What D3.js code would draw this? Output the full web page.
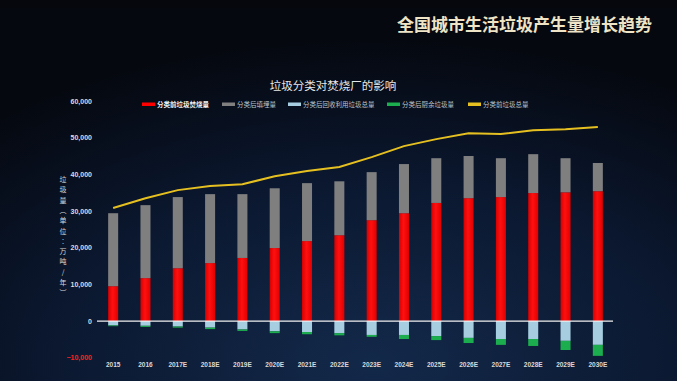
<!DOCTYPE html>
<html><head><meta charset="utf-8">
<script src="https://cdn.jsdelivr.net/npm/d3@7"></script>
<style>html,body{margin:0;padding:0;background:#070b14;overflow:hidden}svg{display:block}</style>
</head><body>
<svg id="c" width="677" height="381"></svg>
<script>
const years = ["2015","2016","2017E","2018E","2019E","2020E","2021E","2022E","2023E","2024E","2025E","2026E","2027E","2028E","2029E","2030E"];
const incineration = [9500,11700,14400,15800,17200,19900,21800,23400,27500,29400,32200,33500,33800,34900,35100,35400];
const landfill = [19900,19900,19400,18800,17400,16300,15800,14700,13100,13400,12200,11500,10600,10600,9300,7700];
const recycled = [1200,1300,1500,1800,2300,2800,3000,3300,3800,3800,4100,4600,4900,4900,5400,6500];
const kitchen = [200,300,300,400,400,500,600,600,500,1100,1100,1400,1600,1900,2500,3000];
const totalBefore = [30800,33500,35700,36800,37300,39500,40900,42000,44700,47700,49600,51200,51000,52000,52300,52900];
const yTicks = [-10000,0,10000,20000,30000,40000,50000,60000];
const legendNames = ["分类前垃圾焚烧量","分类后填埋量","分类后回收利用垃圾总量","分类后厨余垃圾量","分类前垃圾总量"];
const colors = ["#ff0000","#7f7f7f","#a6cde0","#1cae4e","#e6c020"];

const svg = d3.select("#c");
const W = 677, H = 381;
const defs = svg.append("defs");
const bg = defs.append("radialGradient").attr("id","bg").attr("cx","0.55").attr("cy","0.95").attr("r","0.85");
bg.append("stop").attr("offset","0").attr("stop-color","#13294a");
bg.append("stop").attr("offset","0.55").attr("stop-color","#0b1830");
bg.append("stop").attr("offset","1").attr("stop-color","#05080f");
const rg = defs.append("linearGradient").attr("id","redg").attr("x1","0").attr("x2","1");
rg.append("stop").attr("offset","0").attr("stop-color","#d80000");
rg.append("stop").attr("offset","0.45").attr("stop-color","#ff1010");
rg.append("stop").attr("offset","1").attr("stop-color","#e00000");

svg.append("rect").attr("width",W).attr("height",H).attr("fill","url(#bg)");
svg.append("rect").attr("width",W).attr("height",8).attr("fill","#05070c").attr("opacity",0.7);

svg.append("text").attr("x",652).attr("y",31).attr("text-anchor","end")
  .attr("font-family","Noto Sans CJK SC").attr("font-weight","bold").attr("font-size",17)
  .attr("fill","#efe4c6").text("全国城市生活垃圾产生量增长趋势");

svg.append("text").attr("x",333).attr("y",90).attr("text-anchor","middle")
  .attr("font-family","Noto Sans CJK SC").attr("font-size",11.5)
  .attr("fill","#e8e8e8").text("垃圾分类对焚烧厂的影响");

const x = d3.scaleBand().domain(years).range([97,614]).paddingInner(0.69).paddingOuter(0.345);
const y = d3.scaleLinear().domain([-10000,60000]).range([357.7,101]);

// y tick labels
const ya = svg.append("g").attr("transform","translate(92,0)")
  .call(d3.axisLeft(y).tickValues(yTicks).tickSize(0).tickPadding(0).tickFormat(d3.format(",")));
ya.select(".domain").remove();
ya.selectAll("text").attr("font-family","Liberation Sans").attr("font-size",7)
  .attr("fill", d => d < 0 ? "#ff2020" : "#dcdcdc").attr("font-weight","bold");

// y axis title (vertical)
const yTitle = ["垃","圾","量","︵","单","位","︰","万","吨","/","年","︶"];
svg.append("g").selectAll("text").data(yTitle).join("text")
  .attr("x",63).attr("y",(d,i)=>182+i*10.3).attr("text-anchor","middle")
  .attr("font-family","Noto Sans CJK SC").attr("font-size",7).attr("fill","#d8d8d8").text(d=>d);

const bw = x.bandwidth();
const g = svg.append("g");
g.selectAll(".r").data(years).join("rect")
  .attr("x",d=>x(d)).attr("width",bw)
  .attr("y",(d,i)=>y(incineration[i])).attr("height",(d,i)=>y(0)-y(incineration[i]))
  .attr("fill","url(#redg)");
g.selectAll(".g").data(years).join("rect")
  .attr("x",d=>x(d)).attr("width",bw)
  .attr("y",(d,i)=>y(incineration[i]+landfill[i])).attr("height",(d,i)=>y(incineration[i])-y(incineration[i]+landfill[i]))
  .attr("fill",colors[1]);
g.selectAll(".b").data(years).join("rect")
  .attr("x",d=>x(d)).attr("width",bw)
  .attr("y",y(0)).attr("height",(d,i)=>y(-recycled[i])-y(0))
  .attr("fill",colors[2]);
g.selectAll(".k").data(years).join("rect")
  .attr("x",d=>x(d)).attr("width",bw)
  .attr("y",(d,i)=>y(-recycled[i])).attr("height",(d,i)=>y(-recycled[i]-kitchen[i])-y(-recycled[i]))
  .attr("fill",colors[3]);

svg.append("line").attr("x1",97).attr("x2",613).attr("y1",y(0)).attr("y2",y(0))
  .attr("stroke","#f0f0f0").attr("stroke-width",1.2);

const line = d3.line().x((d,i)=>x(years[i])+bw/2).y(d=>y(d));
svg.append("path").datum(totalBefore).attr("d",line).attr("fill","none")
  .attr("stroke",colors[4]).attr("stroke-width",2);

const xa = svg.append("g").attr("transform","translate(0,365)")
  .call(d3.axisBottom(x).tickSize(0).tickPadding(0));
xa.select(".domain").remove();
xa.selectAll("text").attr("font-family","Liberation Sans").attr("font-size",6.5)
  .attr("font-weight","bold").attr("fill","#d8d8d8").attr("dy","0.35em");

const lx = [142,222,288,387,468];
const lg = svg.append("g");
legendNames.forEach((n,i)=>{
  lg.append("rect").attr("x",lx[i]).attr("y",102.5).attr("width",13).attr("height",3.5).attr("fill",colors[i]);
  lg.append("text").attr("x",lx[i]+15).attr("y",104.3).attr("dy","0.35em")
    .attr("font-family","Noto Sans CJK SC").attr("font-size",6.5)
    .attr("font-weight", i===0 ? "bold" : "normal")
    .attr("fill", i===0 ? "#f2f2f2" : "#bfc3c8").text(n);
});
</script>
</body></html>
